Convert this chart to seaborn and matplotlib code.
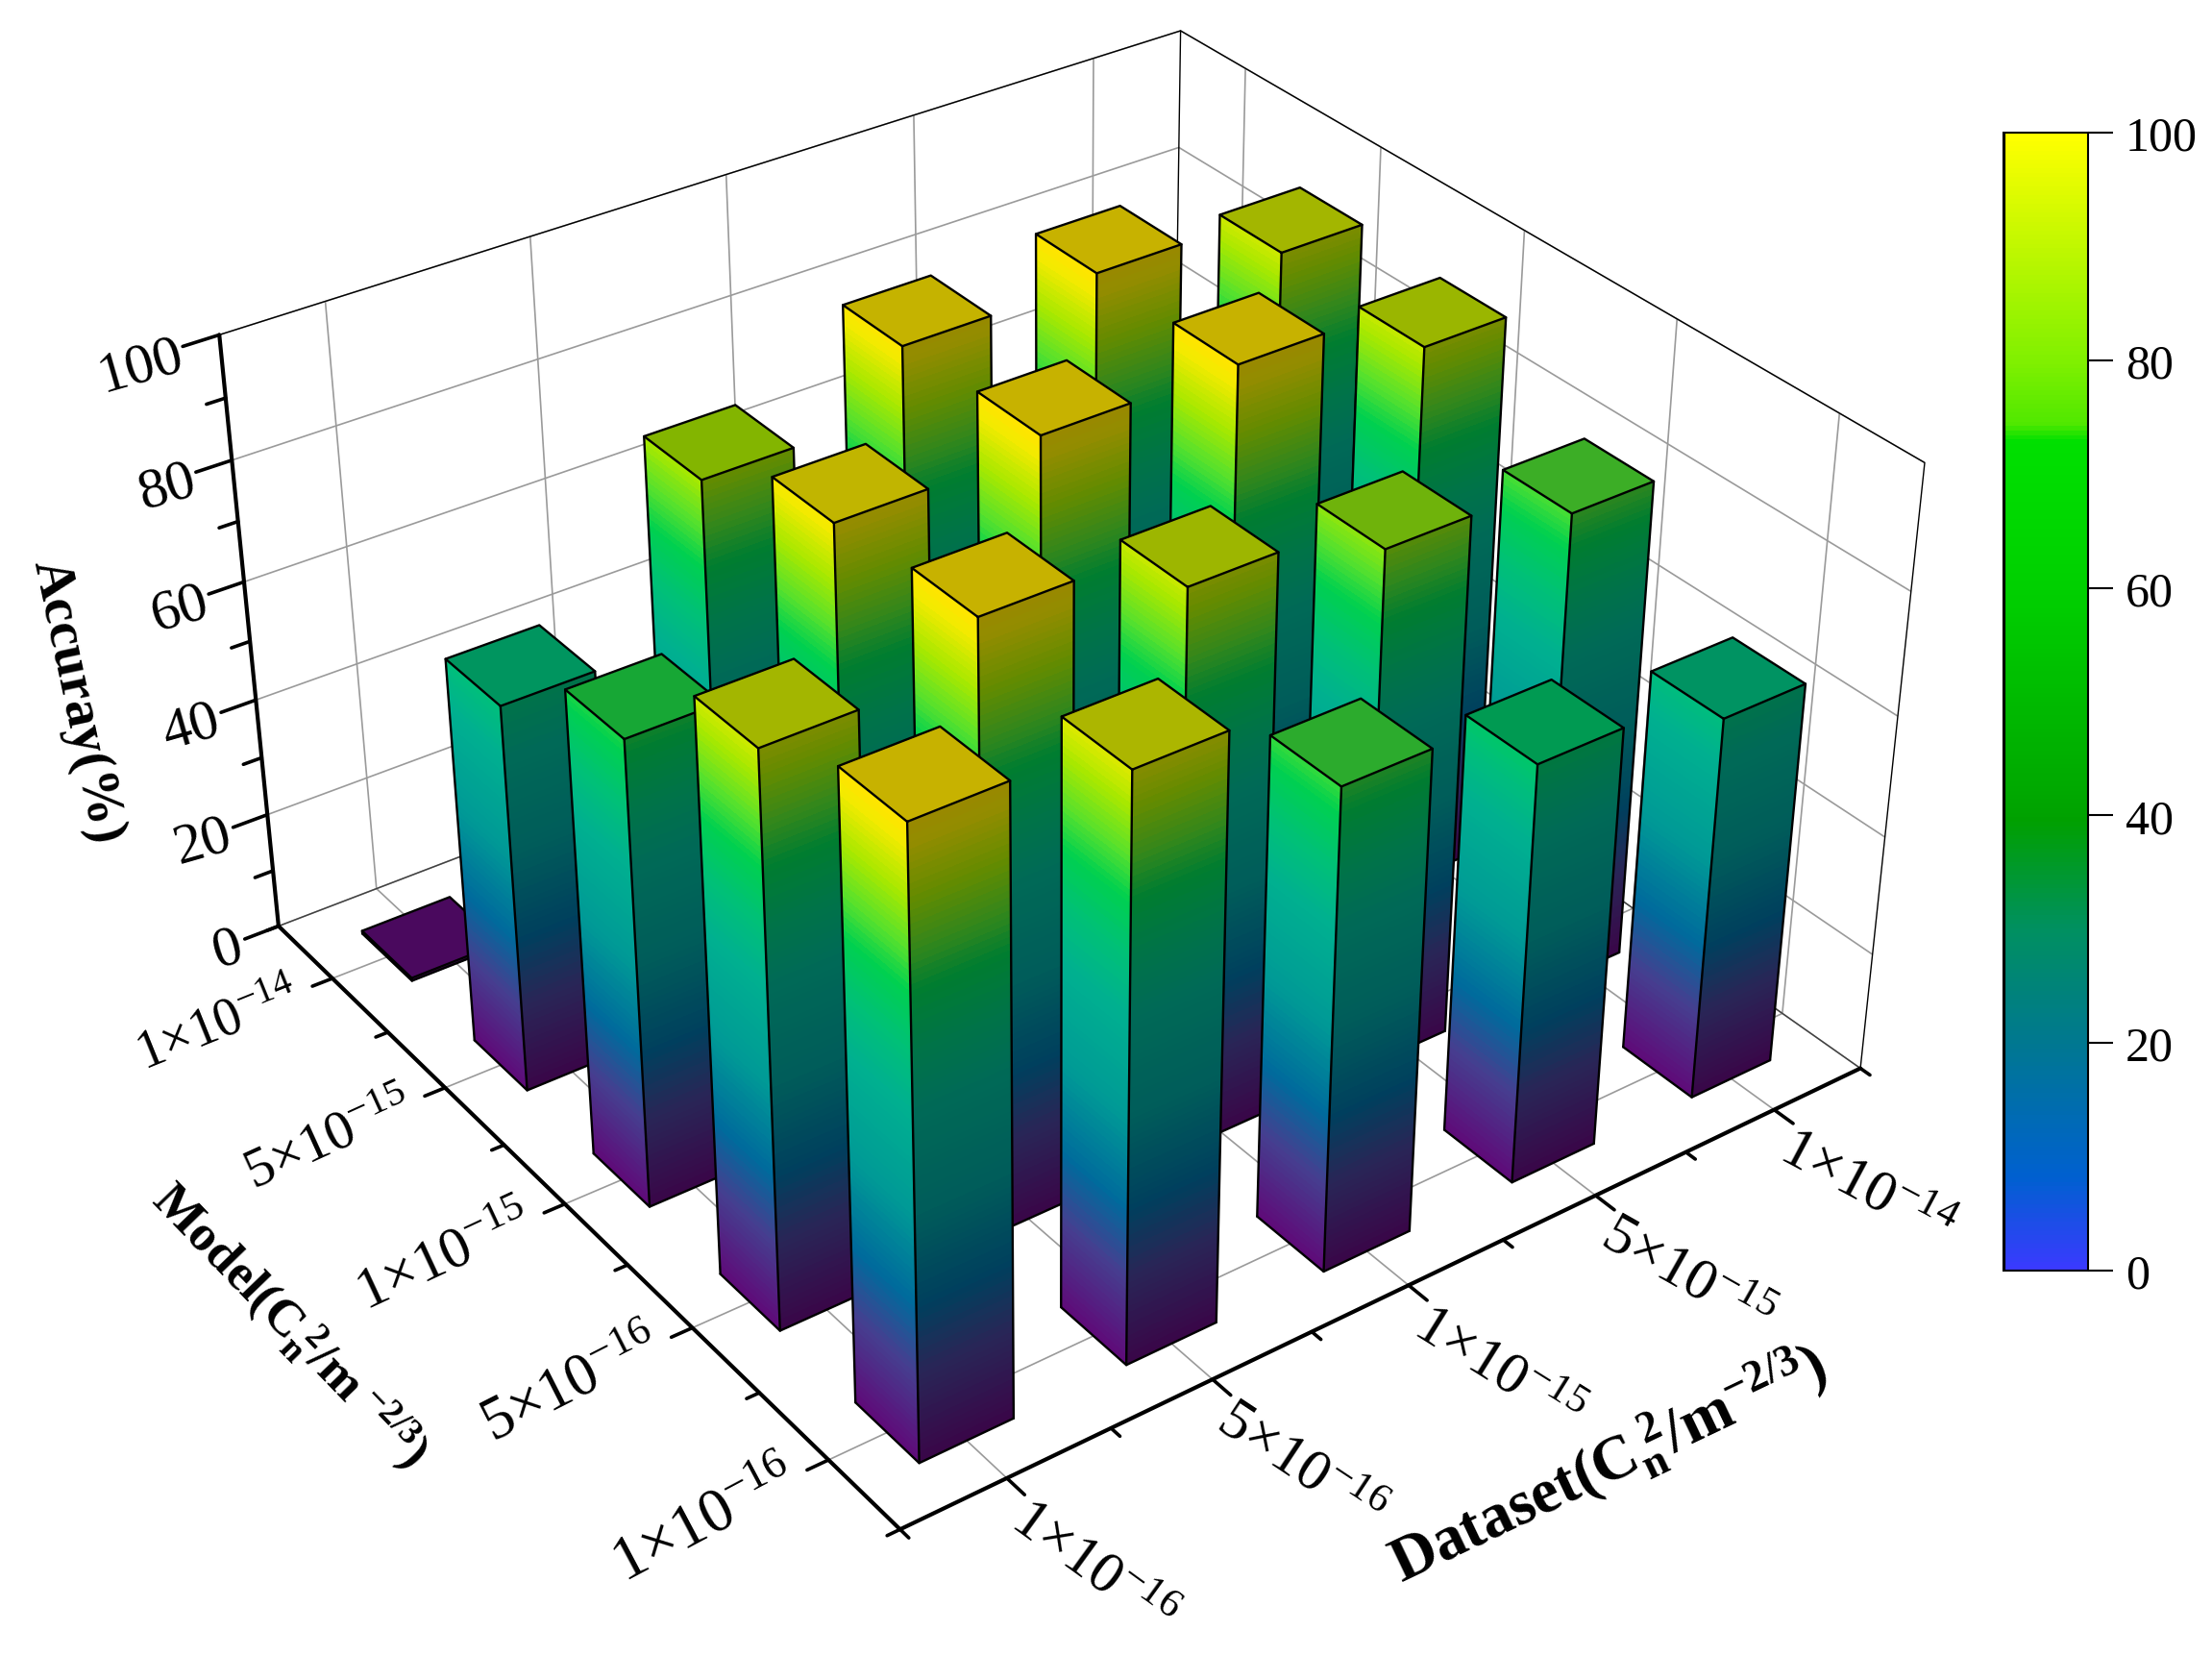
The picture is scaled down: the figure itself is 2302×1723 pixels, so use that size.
import numpy as np
import matplotlib
matplotlib.use("Agg")
import matplotlib.pyplot as plt
import seaborn as sns
from matplotlib.cm import ScalarMappable
from matplotlib.colors import LinearSegmentedColormap, Normalize
from mpl_toolkits.mplot3d import proj3d

# data
dataset_labels = [r"$1{\times}10^{-16}$", r"$5{\times}10^{-16}$", r"$1{\times}10^{-15}$", r"$5{\times}10^{-15}$", r"$1{\times}10^{-14}$"]
model_labels = [r"$1{\times}10^{-16}$", r"$5{\times}10^{-16}$", r"$1{\times}10^{-15}$", r"$5{\times}10^{-15}$", r"$1{\times}10^{-14}$"]
acc_m_1e16 = [100.0, 94.5, 79.0, 69.5, 64.0]
acc_m_5e16 = [93.0, 100.0, 92.5, 86.5, 80.5]
acc_m_1e15 = [77.0, 98.0, 100.0, 100.0, 92.0]
acc_m_5e15 = [65.0, 89.0, 99.0, 100.0, 93.0]
acc_m_1e14 = [0.5, 0.5, 0.5, 0.5, 0.5]
accuracy = np.array([acc_m_1e16, acc_m_5e16, acc_m_1e15, acc_m_5e15, acc_m_1e14])
z_ticks = [0, 20, 40, 60, 80, 100]

sns.set_theme(style="white")
plt.rcParams["font.family"] = ["Liberation Serif", "DejaVu Serif"]
plt.rcParams["text.color"] = "black"
plt.rcParams["xtick.color"] = "black"
plt.rcParams["ytick.color"] = "black"
plt.rcParams["mathtext.fontset"] = "custom"
plt.rcParams["mathtext.rm"] = "Liberation Serif"
plt.rcParams["mathtext.it"] = "Liberation Serif:italic"
plt.rcParams["mathtext.bf"] = "Liberation Serif:bold"
plt.rcParams["mathtext.default"] = "rm"

# colour along the bars
bar_cmap = LinearSegmentedColormap.from_list("bars", [
    (0.00, "#5f0a78"), (0.15, "#453f90"), (0.26, "#006a9c"), (0.41, "#009a96"),
    (0.57, "#00b090"), (0.66, "#00c078"), (0.75, "#00d050"), (0.81, "#50e030"),
    (0.89, "#a8e800"), (0.97, "#f4ea00"), (1.00, "#ffe400")])
# colour of the scale on the right
scale_cmap = LinearSegmentedColormap.from_list("scale", [
    (0.00, "#3a3aff"), (0.08, "#0060d0"), (0.20, "#007890"), (0.30, "#009060"),
    (0.395, "#00a000"), (0.42, "#00a800"), (0.60, "#00d000"), (0.73, "#00e000"),
    (0.745, "#50e800"), (0.80, "#80f000"), (1.00, "#ffff00")])
norm = Normalize(0, 100)

W, H, S = 2302, 1724, 2000
fig = plt.figure(figsize=(W/100, H/100), dpi=100, facecolor="white")
ax = fig.add_subplot(projection="3d", computed_zorder=False)
ax.set_position([(1069.7-S/2)/W, (H-764.5-S/2)/H, S/W, S/H])
ax.patch.set_alpha(0)
ax.set_xlim(-0.5, 4.5)
ax.set_ylim(-0.5, 4.5)
ax.set_zlim(0, 100)
ax.view_init(elev=32.826, azim=-125.844)
ax.set_proj_type("persp", focal_length=0.494)
ax.set_box_aspect((1.017, 1, 0.611), zoom=0.912)

ax.set_xticks(range(5))
ax.set_yticks(range(5))
ax.set_zticks(z_ticks)
ax.set_xticklabels([])
ax.set_yticklabels([])
ax.set_zticklabels([])
ax.grid(True)
for axis in (ax.xaxis, ax.yaxis, ax.zaxis):
    axis.set_pane_color((1, 1, 1, 0))
    axis.pane.set_edgecolor((0, 0, 0, 0))
    axis.line.set_color((0, 0, 0, 0))
    axis._axinfo["grid"].update(color="#9a9a9a", linewidth=1.2)
    axis._axinfo["tick"].update(inward_factor=0, outward_factor=0)
ax.tick_params(colors=(0, 0, 0, 0))

# box outline behind the bars
ax.plot([-0.5, 4.5, 4.5, 4.5], [4.5, 4.5, -0.5, -0.5], [100, 100, 100, 0], color="black", lw=1.0, zorder=1)
ax.plot([4.5, 4.5], [4.5, 4.5], [0, 100], color="black", lw=1.0, zorder=1)
ax.plot([-0.5, 4.5, 4.5], [4.5, 4.5, -0.5], [0, 0, 0], color="#404040", lw=1.0, zorder=1)

# bars, far ones first
bar_w = 0.45
order = 10
for i in range(4, -1, -1):
    for j in range(4, -1, -1):
        h = accuracy[j, i]
        x0, x1 = i-bar_w/2, i+bar_w/2
        y0, y1 = j-bar_w/2, j+bar_w/2
        zs = np.linspace(0, h, int(h)+2)
        zc = (zs[:-1]+zs[1:])/2
        rgba = bar_cmap(norm(zc))[:, None, :3]

        # left face
        Z, T = np.meshgrid(zs, [0, 1], indexing="ij")
        ax.plot_surface(np.full(Z.shape, x0), y0+T*(y1-y0), Z,
                        facecolors=np.dstack([rgba*1.0, np.ones(rgba.shape[:2])]),
                        rstride=1, cstride=1, shade=False, linewidth=0, antialiased=False, zorder=order)
        # right face
        ax.plot_surface(x0+T*(x1-x0), np.full(Z.shape, y0), Z,
                        facecolors=np.dstack([rgba*0.6, np.ones(rgba.shape[:2])]),
                        rstride=1, cstride=1, shade=False, linewidth=0, antialiased=False, zorder=order)
        # top
        top = np.array(bar_cmap(norm(h))[:3])*0.78
        tx, ty = np.meshgrid([x0, x1], [y0, y1])
        ax.plot_surface(tx, ty, np.full(tx.shape, h), color=tuple(top), rstride=1, cstride=1,
                        shade=False, linewidth=0, antialiased=False, zorder=order)
        # edges
        for ex, ey, ez in [([x0, x1, x1, x0, x0], [y0, y0, y1, y1, y0], [h]*5),
                           ([x0, x0], [y0, y0], [0, h]),
                           ([x1, x1], [y0, y0], [0, h]),
                           ([x0, x0], [y1, y1], [0, h]),
                           ([x0, x0, x1], [y1, y0, y0], [0, 0, 0])]:
            ax.plot(ex, ey, ez, color="black", lw=1.7, zorder=order+0.5)
        order += 1

# axis lines and ticks
ax_z = 500
ax.plot([-0.5, -0.5], [4.5, 4.5], [0, 100], color="black", lw=3.0, zorder=ax_z)
ax.plot([-0.5, -0.5], [-0.5, 4.5], [0, 0], color="black", lw=3.0, zorder=ax_z)
ax.plot([-0.5, 4.5], [-0.5, -0.5], [0, 0], color="black", lw=3.0, zorder=ax_z)
for z in range(0, 101, 10):
    tl = 0.17 if z % 20 == 0 else 0.09
    ax.plot([-0.5, -0.5-tl], [4.5, 4.5], [z, z], color="black", lw=2.6, zorder=ax_z)
for t in np.arange(-0.5, 5, 0.5):
    whole = float(t).is_integer()
    ax.plot([-0.5, -0.5-(0.1 if whole else 0.06)], [t, t], [0, 0], color="black", lw=2.6, zorder=ax_z)
    ax.plot([t, t], [-0.5, -0.5-(0.12 if whole else 0.06)], [0, 0], color="black", lw=2.6, zorder=ax_z)


def tick_text(x, y, z, text, off, **kw):
    # the label sits at a pixel offset from the projected tick position
    xd, yd, _ = proj3d.proj_transform(x, y, z, ax.get_proj())
    ax.annotate(text, xy=(xd, yd), xycoords="data", xytext=off, textcoords="offset pixels",
                va="center", rotation_mode="anchor", annotation_clip=False, **kw)


model_rot = [28, 27, 25, 24.5, 22]
model_size = [47, 45, 44, 42, 40]
dataset_rot = [-36, -33.5, -32, -29.5, -28]
for j, lab in enumerate(model_labels):
    tick_text(-0.5, j, 0, lab, (-37, -15), rotation=model_rot[j], fontsize=model_size[j], ha="right")
for i, lab in enumerate(dataset_labels):
    tick_text(i, -0.5, 0, lab, (10, -36), rotation=dataset_rot[i], fontsize=44, ha="left")
for z in z_ticks:
    tick_text(-0.5, 4.5, z, str(z), (-38, -20), rotation=16, fontsize=43, ha="right")

# axis titles
fig.text(80/W, 1-730/H, "Accuray(%)", fontsize=41, fontweight="bold", rotation=-78, ha="center", va="center")
fig.text(301/W, 1-1380/H, r"$\mathbf{Model(C}_{\mathbf{n}}^{\ \mathbf{2}}\mathbf{/m}^{\ \mathbf{-2/3}}\mathbf{)}$",
         fontsize=38.5, rotation=-46, ha="center", va="center")
fig.text(1674/W, 1-1524/H, r"$\mathbf{Dataset(C}_{\mathbf{n}}^{\ \mathbf{2}}\mathbf{/m}^{\mathbf{-2/3}}\mathbf{)}$",
         fontsize=47, rotation=25.5, ha="center", va="center")

# scale on the right
cax = fig.add_axes([2085/W, (H-1323)/H, 88/W, 1184/H])
cb = fig.colorbar(ScalarMappable(norm=norm, cmap=scale_cmap), cax=cax, ticks=z_ticks)
cb.outline.set_linewidth(1.5)
cb.outline.set_edgecolor("black")
cb.ax.tick_params(length=19, width=1.5, labelsize=36, pad=9, color="black", right=True)
cax.axvline(0, color="black", lw=3)

fig.savefig("out.png", dpi=100)
